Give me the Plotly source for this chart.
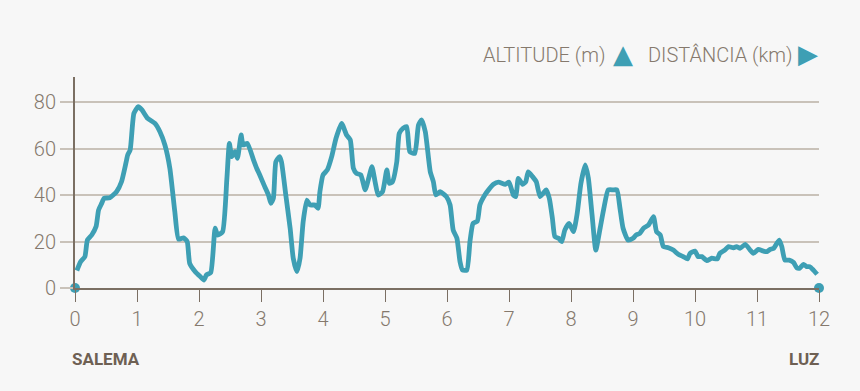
import plotly.graph_objects as go

# distance (km) and altitude (m)
km = [0.03, 0.09, 0.16, 0.20, 0.27, 0.34, 0.38, 0.43, 0.47, 0.56, 0.67, 0.75, 0.82, 0.85, 0.89,
      0.95, 1.02, 1.08, 1.17, 1.29, 1.37, 1.45, 1.53, 1.61, 1.67, 1.75, 1.81, 1.85, 1.94, 2.02,
      2.08, 2.12, 2.19, 2.26, 2.30, 2.38, 2.45, 2.49, 2.53, 2.58, 2.62, 2.68, 2.71, 2.78, 2.88,
      2.93, 2.98, 3.06, 3.12, 3.16, 3.20, 3.24, 3.30, 3.33, 3.40, 3.47, 3.52, 3.58, 3.63, 3.68,
      3.74, 3.79, 3.87, 3.92, 3.95, 4.00, 4.07, 4.14, 4.21, 4.30, 4.38, 4.44, 4.49, 4.54, 4.61,
      4.68, 4.73, 4.79, 4.84, 4.89, 4.96, 5.03, 5.07, 5.12, 5.19, 5.23, 5.29, 5.35, 5.40, 5.48,
      5.54, 5.59, 5.65, 5.73, 5.78, 5.82, 5.89, 5.99, 6.05, 6.10, 6.16, 6.21, 6.25, 6.32, 6.37,
      6.42, 6.49, 6.53, 6.61, 6.67, 6.75, 6.83, 6.94, 7.00, 7.07, 7.11, 7.15, 7.22, 7.27, 7.31,
      7.38, 7.44, 7.50, 7.55, 7.60, 7.65, 7.70, 7.74, 7.80, 7.85, 7.90, 7.97, 8.04, 8.10, 8.16,
      8.23, 8.28, 8.34, 8.40, 8.47, 8.53, 8.60, 8.68, 8.74, 8.79, 8.84, 8.92, 9.00, 9.05, 9.11,
      9.17, 9.25, 9.33, 9.38, 9.44, 9.49, 9.57, 9.65, 9.73, 9.81, 9.88, 9.92, 10.00, 10.05, 10.11,
      10.19, 10.27, 10.36, 10.40, 10.48, 10.54, 10.62, 10.67, 10.73, 10.81, 10.89, 10.94, 11.02,
      11.10, 11.16, 11.21, 11.27, 11.32, 11.36, 11.40, 11.45, 11.52, 11.59, 11.64, 11.69, 11.75,
      11.80, 11.85, 11.91, 11.97]
altitude = [7.5, 11.3, 13.5, 20.6, 22.8, 26.4, 33.5, 36.4, 38.6, 38.8, 41.4, 45.7, 53.6, 57.2, 59.4,
            75.1, 78.0, 76.6, 73.0, 70.8, 67.2, 61.5, 51.5, 32.8, 21.0, 21.6, 19.9, 10.6, 7.0, 4.9,
            3.4, 5.6, 6.7, 25.7, 22.8, 24.2, 47.2, 62.2, 56.5, 58.6, 55.8, 65.8, 61.5, 62.2, 55.0,
            51.5, 48.6, 43.6, 40.0, 36.4, 38.6, 54.3, 56.5, 54.3, 40.0, 25.7, 12.8, 7.0, 12.8, 28.5,
            37.8, 35.7, 35.7, 34.3, 41.4, 48.6, 50.8, 56.5, 64.4, 70.8, 65.8, 63.7, 51.5, 49.3, 48.6,
            42.2, 46.5, 52.2, 45.7, 40.0, 41.4, 50.8, 45.0, 45.7, 54.3, 66.5, 68.7, 69.4, 58.6, 57.9,
            70.1, 72.3, 67.2, 50.0, 45.7, 40.0, 41.4, 39.3, 35.7, 24.9, 21.4, 11.3, 7.7, 7.7, 19.9,
            27.8, 28.8, 35.7, 40.0, 42.2, 44.6, 45.5, 44.6, 45.5, 40.0, 39.3, 47.2, 44.6, 45.7, 50.0,
            47.9, 45.7, 39.3, 40.7, 42.2, 38.6, 30.0, 22.1, 21.4, 19.9, 24.9, 27.8, 24.2, 32.1, 45.0,
            52.9, 47.2, 31.4, 16.3, 25.7, 34.3, 42.2, 42.2, 42.2, 34.3, 25.7, 20.6, 21.4, 22.8, 23.5,
            25.7, 27.1, 30.7, 24.2, 22.8, 17.8, 17.3, 16.3, 14.5, 13.5, 12.5, 14.9, 15.9, 13.5, 13.5,
            11.8, 12.8, 12.5, 14.9, 16.3, 17.8, 17.3, 17.8, 17.1, 18.8, 16.3, 14.9, 16.6,
            15.9, 15.6, 16.6, 17.1, 19.2, 20.6, 17.8, 12.0, 12.0, 11.0, 8.7, 8.5, 10.2,
            9.2, 9.2, 7.7, 5.9]

endpoints_km = [0, 12]
endpoints_alt = [0, 0]
x_ticks = list(range(0, 13))
y_ticks = [0, 20, 40, 60, 80]

TEAL = "#3e9fb4"
BROWN = "#7b6f63"
GRID = "#c9c2b9"
LABEL = "#85796d"
FONT = "Roboto, sans-serif"

fig = go.Figure()
fig.add_trace(go.Scatter(x=km, y=altitude, mode="lines",
                         line=dict(color=TEAL, width=4.8, shape="spline", smoothing=0.5),
                         hoverinfo="skip"))
fig.add_trace(go.Scatter(x=endpoints_km, y=endpoints_alt, mode="markers",
                         marker=dict(color=TEAL, size=10), cliponaxis=False, hoverinfo="skip"))

W, H = 860, 391
L, R, T, B = 75, 41, 77, 103

def px(x):
    return (x - L) / (W - L - R)

def py(y):
    return (H - B - y) / (H - T - B)

fig.update_layout(
    width=W, height=H,
    margin=dict(l=L, r=R, t=T, b=B),
    paper_bgcolor="#f7f7f7", plot_bgcolor="#f7f7f7",
    showlegend=False,
    font=dict(family=FONT, color=LABEL),
    xaxis=dict(range=[0, 12], tickvals=x_ticks, ticktext=[str(v) for v in x_ticks],
               showgrid=False, zeroline=False, showline=True, linecolor=BROWN, linewidth=2,
               ticks="outside", ticklen=12, tickwidth=1, tickcolor=BROWN,
               tickfont=dict(size=20, color=LABEL, family=FONT, weight=300)),
    yaxis=dict(range=[0, 90.75], tickvals=y_ticks, ticktext=[str(v) for v in y_ticks],
               showgrid=True, gridcolor=GRID, gridwidth=1.5, zeroline=False,
               showline=True, linecolor=BROWN, linewidth=2,
               ticks="outside", ticklen=13, tickwidth=1.5, tickcolor=GRID,
               tickfont=dict(size=20, color=LABEL, family=FONT, weight=300)),
)

ann = [
    dict(text="ALTITUDE (m)", x=px(607), y=py(55), xanchor="right", yanchor="middle",
         font=dict(size=20, color=LABEL, family=FONT, weight=300)),
    dict(text="▲", x=px(622.5), y=py(54), xanchor="center", yanchor="middle",
         font=dict(size=26, color=TEAL, family="DejaVu Sans")),
    dict(text="DISTÂNCIA (km)", x=px(795), y=py(55), xanchor="right", yanchor="middle",
         font=dict(size=20, color=LABEL, family=FONT, weight=300)),
    dict(text="▶", x=px(808), y=py(54), xanchor="center", yanchor="middle",
         font=dict(size=26, color=TEAL, family="DejaVu Sans")),
    dict(text="<b>SALEMA</b>", x=px(70), y=py(359), xanchor="left", yanchor="middle",
         font=dict(size=17, color="#6e6053", family=FONT)),
    dict(text="<b>LUZ</b>", x=px(821), y=py(359), xanchor="right", yanchor="middle",
         font=dict(size=17, color="#6e6053", family=FONT)),
]
for a in ann:
    a.update(xref="paper", yref="paper", showarrow=False)
fig.update_layout(annotations=ann)

fig.write_html("out.html", config={"displayModeBar": False},
               post_script="document.body.style.margin='0';document.body.style.background='#f7f7f7';")
